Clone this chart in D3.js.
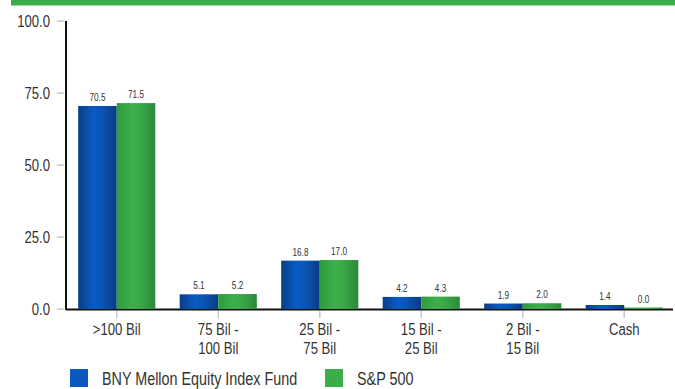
<!DOCTYPE html>
<html>
<head>
<meta charset="utf-8">
<script src="https://cdn.jsdelivr.net/npm/d3@7"></script>
<style>
  html, body { margin: 0; padding: 0; background: #fff; }
  svg { display: block; }
  text { font-family: "Liberation Sans", Arial, sans-serif; fill: #333; }
</style>
</head>
<body>
<svg id="chart" width="675" height="389"></svg>
<script>
// Market-cap buckets and the weight (%) held by the fund vs. the index
const categories = [">100 Bil", "75 Bil -\n100 Bil", "25 Bil -\n75 Bil", "15 Bil -\n25 Bil", "2 Bil -\n15 Bil", "Cash"];
const seriesNames = ["BNY Mellon Equity Index Fund", "S&P 500"];
const fundValues = [70.5, 5.1, 16.8, 4.2, 1.9, 1.4];
const indexValues = [71.5, 5.2, 17.0, 4.3, 2.0, 0.0];
const yTicks = [0, 25, 50, 75, 100];

const seriesValues = [fundValues, indexValues];
const data = categories.map((c, i) => ({
  cat: c,
  vals: seriesNames.map((s, j) => ({ series: s, value: seriesValues[j][i] }))
}));

const svg = d3.select("#chart");
const W = 675;
const plotLeft = 66, plotRight = 675, plotTop = 21, plotBottom = 309;
const NARROW = 0.82; // horizontal squeeze for a condensed face

// squeeze a text element horizontally, keeping its anchor point
function condense(sel) {
  sel.each(function () {
    const w = this.getComputedTextLength();
    d3.select(this).attr("textLength", w * NARROW).attr("lengthAdjust", "spacingAndGlyphs");
  });
  return sel;
}

// header band
svg.append("rect").attr("x", 11).attr("y", 0).attr("width", W - 11).attr("height", 5).attr("fill", "#3aac4a");
svg.append("rect").attr("x", 11).attr("y", 5).attr("width", W - 11).attr("height", 1).attr("fill", "#9fd8a6");

// gradients giving the bars a rounded, shaded look
const defs = svg.append("defs");
function grad(id, stops) {
  const g = defs.append("linearGradient").attr("id", id).attr("x1", "0%").attr("x2", "100%").attr("y1", "0%").attr("y2", "0%");
  stops.forEach(([o, c]) => g.append("stop").attr("offset", o).attr("stop-color", c));
}
grad("gBlue", [["0%", "#083f86"], ["40%", "#0a5bc2"], ["60%", "#0a56b8"], ["100%", "#083c80"]]);
grad("gGreen", [["0%", "#2f9a3f"], ["40%", "#3cb04b"], ["60%", "#39a948"], ["100%", "#2b8a3a"]]);
const fills = ["url(#gBlue)", "url(#gGreen)"];
const legendColors = ["#0a58c0", "#3aac4a"];

const y = d3.scaleLinear().domain([0, 100]).range([plotBottom, plotTop]);
const x0 = d3.scaleBand().domain(categories).range([plotLeft, plotRight]).paddingInner(0.24).paddingOuter(0.12);
const x1 = d3.scaleBand().domain(seriesNames).range([0, x0.bandwidth()]).padding(0);

// y axis ticks and labels
const yAxis = svg.append("g");
yTicks.forEach(t => {
  yAxis.append("line").attr("x1", 57).attr("x2", 64).attr("y1", y(t)).attr("y2", y(t))
    .attr("stroke", "#c8c8c8").attr("stroke-width", 1.5);
  condense(yAxis.append("text").attr("x", 50).attr("y", y(t)).attr("dy", "0.36em")
    .attr("text-anchor", "end").attr("font-size", 16).text(d3.format(".1f")(t)));
});

// category ticks and two-line labels
const xAxis = svg.append("g");
categories.forEach(c => {
  const cx = x0(c) + x0.bandwidth() / 2;
  xAxis.append("line").attr("x1", cx).attr("x2", cx).attr("y1", 311).attr("y2", 318)
    .attr("stroke", "#c8c8c8").attr("stroke-width", 1.5);
  c.split("\n").forEach((line, i) => {
    condense(xAxis.append("text").attr("text-anchor", "middle").attr("font-size", 16)
      .attr("x", cx).attr("y", 335 + i * 19).text(line));
  });
});

// axis lines
svg.append("line").attr("x1", plotLeft).attr("x2", plotLeft).attr("y1", plotTop).attr("y2", plotBottom + 1)
  .attr("stroke", "#111").attr("stroke-width", 2);
svg.append("line").attr("x1", plotLeft).attr("x2", 673).attr("y1", plotBottom + 0.5).attr("y2", plotBottom + 0.5)
  .attr("stroke", "#111").attr("stroke-width", 2);

// bars
const groups = svg.append("g").selectAll("g").data(data).join("g")
  .attr("transform", d => `translate(${x0(d.cat)},0)`);
groups.selectAll("rect").data(d => d.vals).join("rect")
  .attr("x", d => x1(d.series))
  .attr("y", d => y(d.value) - (d.value === 0 ? 1.5 : 0))
  .attr("width", x1.bandwidth())
  .attr("height", d => Math.max(plotBottom - y(d.value), 1.5))
  .attr("fill", (d, i) => fills[i]);
condense(groups.selectAll("text").data(d => d.vals).join("text")
  .attr("x", d => x1(d.series) + x1.bandwidth() / 2)
  .attr("y", d => y(d.value) - 5 - (d.value === 0 ? 1.5 : 0))
  .attr("text-anchor", "middle").attr("font-size", 10).attr("fill", "#222")
  .text(d => d3.format(".1f")(d.value)));

// legend
const legend = svg.append("g");
const legendX = [70, 325];
seriesNames.forEach((s, i) => {
  legend.append("rect").attr("x", legendX[i]).attr("y", 369).attr("width", 18).attr("height", 18).attr("fill", legendColors[i]);
  condense(legend.append("text").attr("x", legendX[i] + 32).attr("y", 385).attr("font-size", 17.5).attr("fill", "#111").text(s));
});
</script>
</body>
</html>
